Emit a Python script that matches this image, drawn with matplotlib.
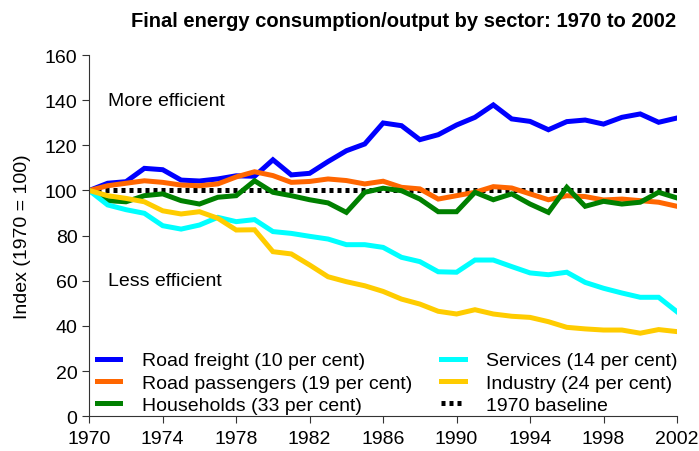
import matplotlib
matplotlib.use("Agg")
import matplotlib.pyplot as plt

plt.rcParams["font.family"] = ["Liberation Sans", "DejaVu Sans"]

years = list(range(1970, 2003))

road_freight = [100, 103.2, 103.9, 109.8, 109.2, 104.6, 104.2, 105.1, 106.5, 106.3,
                113.6, 106.9, 107.6, 112.8, 117.6, 120.6, 129.9, 128.7, 122.5, 124.7,
                129.0, 132.4, 137.9, 131.7, 130.6, 126.9, 130.5, 131.2, 129.4, 132.4,
                133.9, 130.2, 132.1]
road_passengers = [100, 102.1, 103.2, 104.3, 103.6, 102.4, 102.1, 102.9, 106.0, 108.3,
                   106.6, 103.6, 104.0, 105.1, 104.4, 102.9, 104.1, 101.4, 100.7, 96.2,
                   97.7, 99.2, 101.7, 101.1, 98.5, 95.9, 97.7, 97.3, 95.8, 96.2,
                   95.5, 94.8, 93.0]
households = [100, 95.5, 95.0, 97.7, 98.5, 95.5, 94.0, 97.0, 97.7, 104.3,
              99.2, 97.7, 95.9, 94.5, 90.3, 99.2, 101.0, 99.9, 96.2, 90.6,
              90.6, 99.2, 95.9, 98.5, 94.0, 90.3, 101.4, 93.0, 95.2, 94.0,
              94.8, 99.2, 96.7]
services = [100, 93.6, 91.5, 89.9, 84.4, 82.9, 84.7, 88.1, 86.2, 87.1,
            81.8, 81.0, 79.7, 78.5, 76.0, 76.0, 74.8, 70.4, 68.5, 64.0,
            63.8, 69.2, 69.2, 66.3, 63.5, 62.7, 63.8, 59.3, 56.7, 54.6,
            52.7, 52.7, 46.3]
industry = [100, 97.7, 96.5, 95.0, 91.0, 89.6, 90.6, 87.7, 82.5, 82.6,
            72.9, 71.9, 67.0, 61.8, 59.6, 57.8, 55.3, 51.9, 49.7, 46.5,
            45.3, 47.2, 45.3, 44.3, 43.8, 41.9, 39.4, 38.7, 38.2, 38.2,
            36.8, 38.4, 37.5]
baseline = [100] * len(years)

series = [
    ("Road freight (10 per cent)", road_freight, "#0000FF"),
    ("Road passengers (19 per cent)", road_passengers, "#FF6600"),
    ("Households (33 per cent)", households, "#008000"),
    ("Services (14 per cent)", services, "#00FFFF"),
    ("Industry (24 per cent)", industry, "#FFCC00"),
]

fig = plt.figure(figsize=(6.99, 4.52), dpi=100)
ax = fig.add_axes([0.1277, 0.0768, 0.8408, 0.7993])

for name, vals, col in series:
    ax.plot(years, vals, color=col, lw=3.6, label=name, solid_joinstyle="miter")
ax.plot(years, baseline, color="black", lw=3.6, linestyle=(0, (0.8, 0.8)),
        label="1970 baseline", zorder=1.5)

ax.set_xlim(1970, 2002)
ax.set_ylim(0, 160)
ax.set_xticks(range(1970, 2003, 4))
ax.set_yticks(range(0, 161, 20))
ax.tick_params(direction="out", length=5, labelsize=14, color="#333333")
ax.tick_params(axis="x", pad=5)
for s in ["top", "right"]:
    ax.spines[s].set_visible(False)
for s in ["left", "bottom"]:
    ax.spines[s].set_color("#333333")

ax.set_ylabel("Index (1970 = 100)", fontsize=14, labelpad=10)
fig.text(0.578, 0.953, "Final energy consumption/output by sector: 1970 to 2002",
         ha="center", va="center", fontsize=14.5, fontweight="bold")
ax.text(1971.0, 140, "More efficient", fontsize=14, va="center")
ax.text(1971.0, 60, "Less efficient", fontsize=14, va="center")

ax.legend(ncol=2, frameon=False, fontsize=14, loc="lower left",
          bbox_to_anchor=(0.0, -0.016), borderaxespad=0, handlelength=1.2,
          handletextpad=1.1, columnspacing=1.5, labelspacing=0.25)

fig.savefig("out.png", dpi=100)
